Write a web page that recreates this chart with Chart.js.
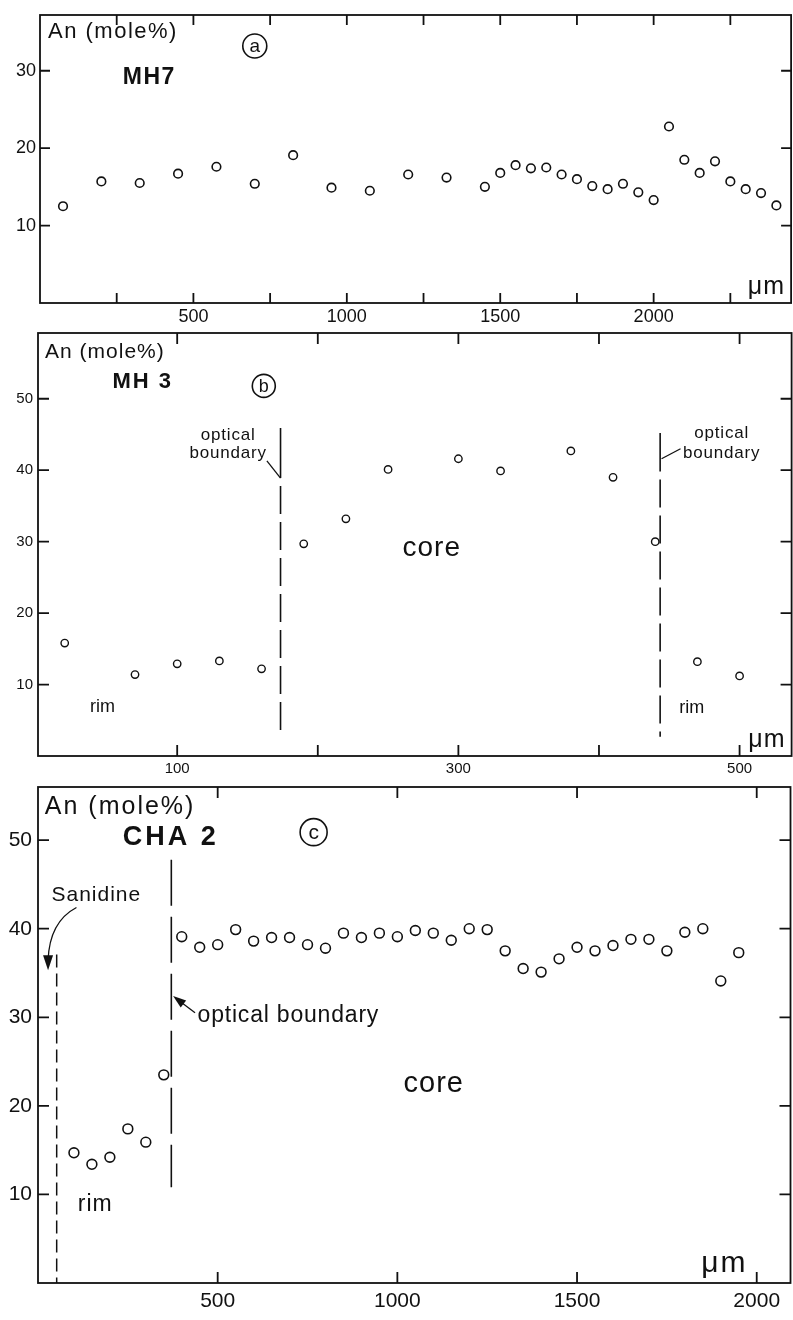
<!DOCTYPE html>
<html>
<head>
<meta charset="utf-8">
<script src="https://cdn.jsdelivr.net/npm/chart.js@4.4.1/dist/chart.umd.min.js"></script>
<style>
  body { margin: 0; background: #fff; overflow: hidden; }
  #wrap { position: relative; width: 793px; height: 1320px; overflow: hidden; }
  canvas { position: absolute; left: 0; }
</style>
</head>
<body>
<div id="wrap">
  <canvas id="chartA" width="797" height="335" style="top:0px"></canvas>
  <canvas id="chartB" width="797" height="455" style="top:325px"></canvas>
  <canvas id="chartC" width="797" height="540" style="top:780px"></canvas>
</div>
<script>
// ---- panel a : MH7 ----
const mh7Dist = [75, 200, 325, 450, 575, 700, 825, 950, 1075, 1200, 1325, 1450, 1500, 1550, 1600, 1650,
  1700, 1750, 1800, 1850, 1900, 1950, 2000, 2050, 2100, 2150, 2200, 2250, 2300, 2350, 2400];
const mh7An = [12.5, 15.7, 15.5, 16.7, 17.6, 15.4, 19.1, 14.9, 14.5, 16.6, 16.2, 15.0, 16.8, 17.8, 17.4, 17.5,
  16.6, 16.0, 15.1, 14.7, 15.4, 14.3, 13.3, 22.8, 18.5, 16.8, 18.3, 15.7, 14.7, 14.2, 12.6];
const mh7XTicks = [250, 500, 750, 1000, 1250, 1500, 1750, 2000, 2250];
const mh7XLabels = [500, 1000, 1500, 2000];
const mh7YTicks = [10, 20, 30];

// ---- panel b : MH 3 ----
const mh3Dist = [20, 70, 100, 130, 160, 190, 220, 250, 300, 330, 380, 410, 440, 470, 500];
const mh3An = [15.8, 11.4, 12.9, 13.3, 12.2, 29.7, 33.2, 40.1, 41.6, 39.9, 42.7, 39.0, 30.0, 13.2, 11.2];
const mh3XTicks = [100, 200, 300, 400, 500];
const mh3XLabels = [100, 300, 500];
const mh3YTicks = [10, 20, 30, 40, 50];
// optical boundaries (rim / core)
const mh3BoundX = [173.5, 443.5];
const mh3BoundTop = [45.9, 45.2];
const mh3BoundSolidEnd = [38.9, 39.8];
const mh3BoundBottom = [3.3, 2.7];

// ---- panel c : CHA 2 ----
const cha2Dist = [100, 150, 200, 250, 300, 350, 400, 450, 500, 550, 600, 650, 700, 750, 800, 850, 900, 950,
  1000, 1050, 1100, 1150, 1200, 1250, 1300, 1350, 1400, 1450, 1500, 1550, 1600, 1650, 1700, 1750, 1800,
  1850, 1900, 1950];
const cha2An = [14.7, 13.4, 14.2, 17.4, 15.9, 23.5, 39.1, 37.9, 38.2, 39.9, 38.6, 39.0, 39.0, 38.2, 37.8, 39.5,
  39.0, 39.5, 39.1, 39.8, 39.5, 38.7, 40.0, 39.9, 37.5, 35.5, 35.1, 36.6, 37.9, 37.5, 38.1, 38.8, 38.8, 37.5,
  39.6, 40.0, 34.1, 37.3];
const cha2XTicks = [500, 1000, 1500, 2000];
const cha2XLabels = [500, 1000, 1500, 2000];
const cha2YTicks = [10, 20, 30, 40, 50];
const sanidineX = [52, 52];
const sanidineY = [37.1, 0];
const cha2BoundX = [371, 371];
const cha2BoundY = [47.8, 10.8];

const FONT = "'Liberation Sans', Arial, Helvetica, sans-serif";
const INK = '#111';

function pts(xs, ys) {
  return xs.map((x, i) => ({ x: x, y: ys[i] }));
}

function txt(ctx, s, x, y, size, o) {
  o = o || {};
  ctx.save();
  ctx.font = (o.bold ? 'bold ' : '') + size + 'px ' + FONT;
  const ls = o.ls || 0;
  ctx.letterSpacing = ls + 'px';
  ctx.textAlign = o.align || 'left';
  ctx.textBaseline = 'middle';
  ctx.fillStyle = INK;
  let xx = x;
  if (o.align === 'center') xx += ls / 2;
  if (o.align === 'right') xx += ls;
  ctx.fillText(s, xx, y);
  ctx.restore();
}

function arrowHead(ctx, tx, ty, ang, len, half) {
  ctx.beginPath();
  ctx.moveTo(tx, ty);
  ctx.lineTo(tx - len * Math.cos(ang) + half * Math.sin(ang), ty - len * Math.sin(ang) - half * Math.cos(ang));
  ctx.lineTo(tx - len * Math.cos(ang) - half * Math.sin(ang), ty - len * Math.sin(ang) + half * Math.cos(ang));
  ctx.closePath();
  ctx.fill();
}

// frame all round, with inward ticks on all four sides
function framePlugin(xTicks, yTicks, len, lw) {
  return {
    id: 'frame',
    afterDraw(chart) {
      const { ctx, chartArea: a } = chart;
      const x = chart.scales.x, y = chart.scales.y;
      ctx.save();
      ctx.strokeStyle = INK;
      ctx.lineWidth = lw;
      ctx.strokeRect(a.left, a.top, a.right - a.left, a.bottom - a.top);
      ctx.beginPath();
      xTicks.forEach(v => {
        const px = x.getPixelForValue(v);
        ctx.moveTo(px, a.bottom); ctx.lineTo(px, a.bottom - len);
        ctx.moveTo(px, a.top); ctx.lineTo(px, a.top + len);
      });
      yTicks.forEach(v => {
        const py = y.getPixelForValue(v);
        ctx.moveTo(a.left, py); ctx.lineTo(a.left + len, py);
        ctx.moveTo(a.right, py); ctx.lineTo(a.right - len, py);
      });
      ctx.stroke();
      ctx.restore();
    }
  };
}

// text notes, leaders and arrows, placed in data units
function notesPlugin(notes) {
  return {
    id: 'notes',
    afterDraw(chart) {
      const ctx = chart.ctx;
      const X = v => chart.scales.x.getPixelForValue(v);
      const Y = v => chart.scales.y.getPixelForValue(v);
      ctx.save();
      ctx.strokeStyle = INK;
      ctx.fillStyle = INK;
      ctx.lineWidth = 1.3;
      notes.forEach(n => {
        if (n.t === 'text') {
          txt(ctx, n.s, X(n.x), Y(n.y), n.size, n);
        } else if (n.t === 'circled') {
          ctx.save();
          ctx.lineWidth = 1.6;
          ctx.beginPath();
          ctx.arc(X(n.x), Y(n.y), n.r, 0, Math.PI * 2);
          ctx.stroke();
          ctx.restore();
          txt(ctx, n.s, X(n.x), Y(n.y) + 1, n.size, { align: 'center' });
        } else if (n.t === 'line') {
          ctx.beginPath();
          ctx.moveTo(X(n.x1), Y(n.y1));
          ctx.lineTo(X(n.x2), Y(n.y2));
          ctx.stroke();
        } else if (n.t === 'arrow') {
          const x1 = X(n.x1), y1 = Y(n.y1), x2 = X(n.x2), y2 = Y(n.y2);
          const ang = Math.atan2(y2 - y1, x2 - x1);
          ctx.beginPath();
          ctx.moveTo(x1, y1);
          ctx.lineTo(x2 - 8 * Math.cos(ang), y2 - 8 * Math.sin(ang));
          ctx.stroke();
          arrowHead(ctx, x2, y2, ang, 13, 4.5);
        } else if (n.t === 'curveArrow') {
          const x1 = X(n.x1), y1 = Y(n.y1), x2 = X(n.x2), y2 = Y(n.y2);
          ctx.beginPath();
          ctx.moveTo(x1, y1);
          ctx.quadraticCurveTo(X(n.cx), Y(n.cy), x2, y2 - 10);
          ctx.stroke();
          arrowHead(ctx, x2, y2, Math.PI / 2, 15, 5);
        }
      });
      ctx.restore();
    }
  };
}

function makeChart(id, cfg) {
  const ctx = document.getElementById(id).getContext('2d');
  const tickFont = { family: FONT, size: cfg.tickSize };
  return new Chart(ctx, {
    type: 'scatter',
    data: { datasets: cfg.datasets },
    options: {
      responsive: false,
      animation: false,
      devicePixelRatio: 1,
      layout: { padding: { top: cfg.padTop, right: 1, left: 0, bottom: 0 } },
      plugins: { legend: { display: false }, tooltip: { enabled: false } },
      scales: {
        x: {
          type: 'linear',
          min: cfg.xMin, max: cfg.xMax,
          afterBuildTicks: s => { s.ticks = cfg.xTicks.map(v => ({ value: v })); },
          afterFit: s => { s.height = cfg.xHeight; s.paddingLeft = 0; s.paddingRight = 0; },
          grid: { display: false, drawTicks: false },
          border: { display: false },
          ticks: {
            autoSkip: false, maxRotation: 0, color: INK, font: tickFont, padding: cfg.xPad,
            callback: v => cfg.xLabels.includes(v) ? String(v) : ''
          }
        },
        y: {
          type: 'linear',
          min: cfg.yMin, max: cfg.yMax,
          afterBuildTicks: s => { s.ticks = cfg.yTicks.map(v => ({ value: v })); },
          afterFit: s => { s.width = cfg.yWidth; s.paddingTop = 0; s.paddingBottom = 0; },
          grid: { display: false, drawTicks: false },
          border: { display: false },
          ticks: { color: INK, font: tickFont, padding: cfg.yPad, callback: v => String(v) }
        }
      }
    },
    plugins: [framePlugin(cfg.xTicks, cfg.yTicks, cfg.tickLen, 1.8), notesPlugin(cfg.notes)]
  });
}

function pointSet(xs, ys, r, bw) {
  return {
    data: pts(xs, ys),
    pointRadius: r,
    pointBorderWidth: bw,
    pointBackgroundColor: 'rgba(0,0,0,0)',
    pointBorderColor: INK,
    showLine: false
  };
}

function lineSet(xs, ys, dash, offset, w) {
  return {
    data: pts(xs, ys),
    showLine: true,
    borderColor: INK,
    borderWidth: w,
    borderDash: dash,
    borderDashOffset: offset || 0,
    pointRadius: 0,
    fill: false
  };
}

// panel a
makeChart('chartA', {
  xMin: 0, xMax: 2448, yMin: 0, yMax: 37.2,
  padTop: 15, xHeight: 32, yWidth: 40, xPad: 3, yPad: 4, tickSize: 18, tickLen: 10,
  xTicks: mh7XTicks, xLabels: mh7XLabels, yTicks: mh7YTicks,
  datasets: [pointSet(mh7Dist, mh7An, 4.3, 1.6)],
  notes: [
    { t: 'text', s: 'An (mole%)', x: 26, y: 35.0, size: 22, ls: 1.5 },
    { t: 'text', s: 'MH7', x: 270, y: 29.1, size: 23, bold: true, ls: 1.5 },
    { t: 'circled', s: 'a', x: 700, y: 33.2, r: 12, size: 19 },
    { t: 'text', s: 'μm', x: 2425, y: 2.1, size: 25, ls: 1, align: 'right' }
  ]
});

// panel b
makeChart('chartB', {
  xMin: 1, xMax: 537, yMin: 0, yMax: 59.2,
  padTop: 8, xHeight: 24, yWidth: 38, xPad: 4, yPad: 5, tickSize: 15, tickLen: 11,
  xTicks: mh3XTicks, xLabels: mh3XLabels, yTicks: mh3YTicks,
  datasets: [
    pointSet(mh3Dist, mh3An, 3.7, 1.4),
    lineSet([mh3BoundX[0], mh3BoundX[0]], [mh3BoundTop[0], mh3BoundSolidEnd[0]], [], 0, 1.6),
    lineSet([mh3BoundX[0], mh3BoundX[0]], [mh3BoundSolidEnd[0], mh3BoundBottom[0]], [28, 8], 28, 1.6),
    lineSet([mh3BoundX[1], mh3BoundX[1]], [mh3BoundTop[1], mh3BoundSolidEnd[1]], [], 0, 1.6),
    lineSet([mh3BoundX[1], mh3BoundX[1]], [mh3BoundSolidEnd[1], mh3BoundBottom[1]], [28, 8], 28, 1.6)
  ],
  notes: [
    { t: 'text', s: 'An (mole%)', x: 6, y: 56.5, size: 21, ls: 1 },
    { t: 'text', s: 'MH 3', x: 54, y: 52.3, size: 22, bold: true, ls: 2 },
    { t: 'circled', s: 'b', x: 161.6, y: 51.8, r: 11.5, size: 18 },
    { t: 'text', s: 'optical', x: 136, y: 44.9, size: 17, ls: 0.8, align: 'center' },
    { t: 'text', s: 'boundary', x: 136, y: 42.4, size: 17, ls: 0.8, align: 'center' },
    { t: 'line', x1: 163.8, y1: 41.3, x2: 173.5, y2: 38.9 },
    { t: 'text', s: 'optical', x: 487, y: 45.2, size: 17, ls: 0.8, align: 'center' },
    { t: 'text', s: 'boundary', x: 487, y: 42.4, size: 17, ls: 0.8, align: 'center' },
    { t: 'line', x1: 444.5, y1: 41.6, x2: 458, y2: 43.0 },
    { t: 'text', s: 'core', x: 280.7, y: 29.1, size: 28, ls: 1, align: 'center' },
    { t: 'text', s: 'rim', x: 46.8, y: 6.9, size: 18, align: 'center' },
    { t: 'text', s: 'rim', x: 466, y: 6.7, size: 18, align: 'center' },
    { t: 'text', s: 'μm', x: 532, y: 2.2, size: 25, ls: 1, align: 'right' }
  ]
});

// panel c
makeChart('chartC', {
  xMin: 0, xMax: 2094, yMin: 0, yMax: 56,
  padTop: 7, xHeight: 37, yWidth: 38, xPad: 6, yPad: 6, tickSize: 21, tickLen: 11,
  xTicks: cha2XTicks, xLabels: cha2XLabels, yTicks: cha2YTicks,
  datasets: [
    pointSet(cha2Dist, cha2An, 4.9, 1.6),
    lineSet(sanidineX, sanidineY, [13, 6], 0, 1.5),
    lineSet(cha2BoundX, cha2BoundY, [46, 11], 0, 1.6)
  ],
  notes: [
    { t: 'text', s: 'An (mole%)', x: 19, y: 53.7, size: 25, ls: 2 },
    { t: 'text', s: 'CHA 2', x: 236, y: 50.3, size: 27, bold: true, ls: 3 },
    { t: 'circled', s: 'c', x: 767, y: 50.9, r: 13.5, size: 21 },
    { t: 'text', s: 'Sanidine', x: 161, y: 43.8, size: 21, ls: 1, align: 'center' },
    { t: 'curveArrow', x1: 107, y1: 42.4, cx: 32, cy: 40.8, x2: 28, y2: 35.3 },
    { t: 'text', s: 'optical boundary', x: 444, y: 30.2, size: 23, ls: 0.8 },
    { t: 'arrow', x1: 437, y1: 30.5, x2: 376, y2: 32.4 },
    { t: 'text', s: 'rim', x: 158, y: 8.8, size: 23, ls: 1, align: 'center' },
    { t: 'text', s: 'core', x: 1100, y: 22.5, size: 29, ls: 1, align: 'center' },
    { t: 'text', s: 'μm', x: 1969, y: 2.2, size: 30, ls: 2, align: 'right' }
  ]
});
</script>
</body>
</html>
